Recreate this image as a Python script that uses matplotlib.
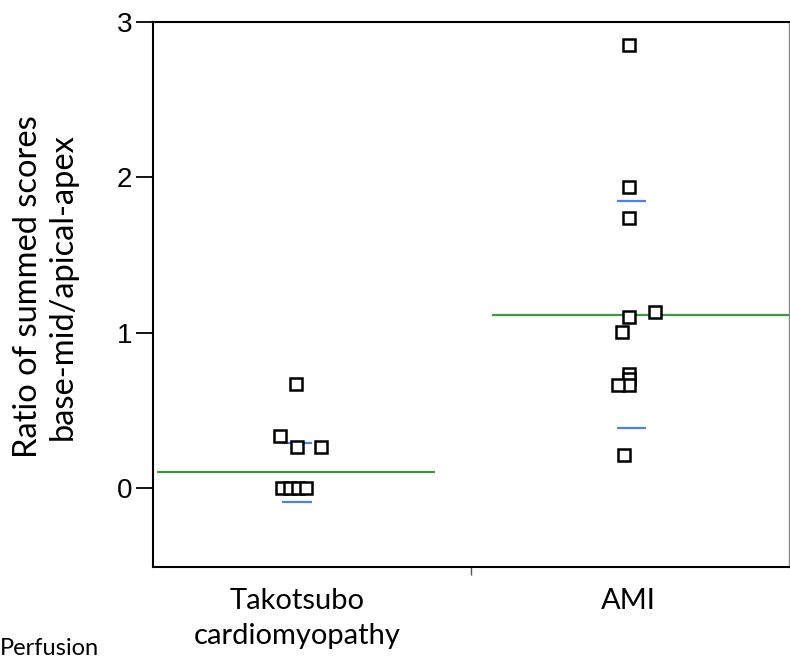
import matplotlib.pyplot as plt

groups = ['Takotsubo\ncardiomyopathy', 'AMI']
tako_vals = [0.67, 0.335, 0.26, 0.26, 0.0, 0.0, 0.0, 0.0]
tako_jitter = [-0.003, -0.05, 0.0, 0.072, -0.045, -0.021, 0.003, 0.027]
ami_vals = [2.85, 1.935, 1.74, 1.13, 1.10, 1.006, 0.735, 0.70, 0.665, 0.665, 0.21]
ami_jitter = [0.003, 0.003, 0.003, 0.08, 0.003, -0.018, 0.003, 0.003, 0.003, -0.03, -0.012]

# group means (green) and mean +/- SD (blue)
means = [0.1, 1.116]
sd_upper = [0.29, 1.845]
sd_lower = [-0.09, 0.387]
yticks = [0, 1, 2, 3]

label_font = 'Lato'
num_font = 'Liberation Sans'

fig = plt.figure(figsize=(7.9, 6.61), dpi=100)
ax = fig.add_axes([153 / 790, 94 / 661, 636 / 790, 545 / 661])

green = '#3d9a3a'
blue = '#4a82e6'

# mean lines span each group's half of the axis
ax.hlines(means[0], -0.423, 0.417, color=green, lw=1.6, zorder=2)
ax.hlines(means[1], 0.59, 1.486, color=green, lw=1.6, zorder=2)

for i in range(2):
    ax.hlines([sd_upper[i], sd_lower[i]], i - 0.045 + 0.01 * i, i + 0.045 + 0.01 * i,
              color=blue, lw=1.6, zorder=2)

ax.plot([0 + j for j in tako_jitter], tako_vals, 's', ms=8, mfc='white',
        mec='black', mew=1.8, ls='none', zorder=3)
ax.plot([1 + j for j in ami_jitter], ami_vals, 's', ms=8, mfc='white',
        mec='black', mew=1.8, ls='none', zorder=3)

ax.set_xlim(-0.435, 1.486)
ax.set_ylim(-0.51, 3.0)

ax.set_yticks(yticks)
ax.set_yticklabels([str(t) for t in yticks], fontsize=20, family=num_font)
ax.tick_params(axis='y', length=12, width=1.3, pad=3)

ax.set_xticks([0, 1])
ax.set_xticklabels(groups, fontsize=21, family=label_font, linespacing=1.45)
ax.tick_params(axis='x', length=0, pad=15)
ax.set_xticks([0.525], minor=True)
ax.tick_params(axis='x', which='minor', length=6, width=1.0, color='#555555')

for s in ['left', 'bottom', 'top']:
    ax.spines[s].set_linewidth(1.5)
    ax.spines[s].set_color('black')
ax.spines['right'].set_color('#888888')
ax.spines['right'].set_linewidth(1.0)

ax.set_ylabel('Ratio of summed scores\nbase-mid/apical-apex', fontsize=23.5,
              family=label_font, linespacing=1.2)
ax.yaxis.set_label_coords(-0.118, 0.515)

# caption at the bottom left of the source image
fig.text(0.0, 2 / 661, 'Perfusion', fontsize=17, family=label_font,
         va='bottom', ha='left')

fig.savefig('out.png', dpi=100)
